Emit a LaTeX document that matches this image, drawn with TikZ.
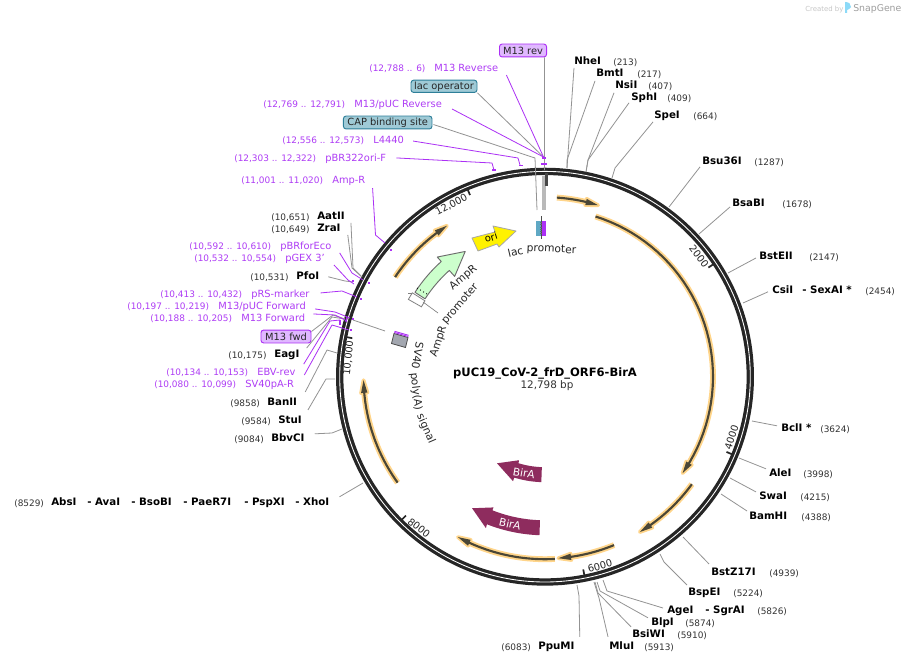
\documentclass[tikz,border=0pt]{standalone}
\usepackage{fontspec}
\setmainfont{DejaVu Sans}
\definecolor{purp}{HTML}{AC30F5}
\definecolor{purt}{HTML}{AE3CF5}
\definecolor{numc}{HTML}{333333}
\definecolor{glow}{HTML}{FFD58A}
\definecolor{core}{HTML}{4A4636}
\definecolor{bira}{HTML}{8E2C5E}
\definecolor{ringc}{HTML}{262626}
\definecolor{tealf}{HTML}{9FCAD6}
\definecolor{teald}{HTML}{2E7F99}
\definecolor{lacf}{HTML}{5FA8C4}
\definecolor{purf}{HTML}{E0B8FF}
\definecolor{ampf}{HTML}{CCFFCC}
\definecolor{svf}{HTML}{A3A7B0}
\newcommand{\fnam}{\fontsize{7.7}{9}\selectfont\bfseries}
\newcommand{\fnum}{\fontsize{6.7}{8}\selectfont}
\newcommand{\fpur}{\fontsize{7.4}{9}\selectfont}
\newcommand{\ftic}{\fontsize{7.4}{9}\selectfont}
\newcommand{\fcur}{\fontsize{8}{10}\selectfont}
\tikzset{
  declare function={px(\a,\r)=545+\r*sin(\a); py(\a,\r)=376.7-\r*cos(\a);},
  lbl/.style={inner sep=0pt,anchor=mid west},
  enzname/.style={lbl,font=\fnam,text=black},
  enznum/.style={lbl,font=\fnum,text=numc},
  purname/.style={lbl,font=\fpur,text=purt},
  purnum/.style={lbl,font=\fnum,text=purt},
  enzline/.style={draw=gray!85,line width=0.6pt,line join=round},
  pureline/.style={draw=purp,line width=0.6pt,line join=round},
  tag/.style={rounded corners=2pt,inner sep=0pt,font=\fpur,text=black!85,line width=0.7pt,anchor=center},
  purtag/.style={tag,draw=purp,fill=purf},
  teal/.style={tag,draw=teald,fill=tealf},
  ticklab/.style={inner sep=0pt,font=\ftic,text=black!85},
  ticker/.style={draw=ringc,line width=1.3pt},
  glowline/.style={draw=glow,line width=4.4pt,line join=round,line cap=butt},
  coreline/.style={draw=core,line width=1.6pt},
  curlab/.style={inner sep=0pt,anchor=base,font=\fcur,text=black!85},
}
\newcommand{\oarc}[4]{%
  \draw[glowline] plot[domain=#2:#3-#4*2,samples=40] ({px(\x,#1)},{py(\x,#1)});
  \filldraw[draw=glow,fill=glow,line width=2.8pt,line join=round]
     ({px(#3,#1)},{py(#3,#1)}) -- ({px(#3-#4*4,#1+3.2)},{py(#3-#4*4,#1+3.2)}) -- ({px(#3-#4*4,#1-3.2)},{py(#3-#4*4,#1-3.2)}) -- cycle;
  \draw[coreline] plot[domain=#2:#3-#4*2,samples=40] ({px(\x,#1)},{py(\x,#1)});
  \fill[core] ({px(#3,#1)},{py(#3,#1)}) -- ({px(#3-#4*4,#1+3.2)},{py(#3-#4*4,#1+3.2)}) -- ({px(#3-#4*4,#1-3.2)},{py(#3-#4*4,#1-3.2)}) -- cycle;
}
\newcommand{\ld}[5]{\draw[#1] ([shift={(#3,#4)}]#2) #5;}
\newcommand{\pdot}[2]{\fill[purp] (#1-1.2,#2-1.2) rectangle (#1+1.2,#2+1.2);}
\newcommand{\tickm}[1]{\draw[ticker] ({px(#1,196.5)},{py(#1,196.5)}) -- ({px(#1,204)},{py(#1,204)});}
% word of a curved label: name, angle, baseline radius, rotation, text
\newcommand{\cword}[5]{\node[curlab,rotate=#4] (#1) at ({px(#2,#3)},{py(#2,#3)}) {#5};}
\begin{document}
\begin{tikzpicture}[x=0.75pt,y=-0.75pt]
\useasboundingbox (0,0) rectangle (902,663);
\fill[white] (0,0) rectangle (902,663);

% ---- watermark
\node[lbl,font=\fontsize{5.2}{6}\selectfont,text=black!22] (wm1) at (805,7.5) {Created by};
\fill[cyan!45] (845,2) .. controls (849,2) and (851,4) .. (851,7) .. controls (851,9) and (848,9) .. (847,10) -- (847,13) -- (845,13) -- cycle;
\node[lbl,font=\fontsize{7}{8}\selectfont,text=black!38] (wm2) at (853,7.5) {SnapGene};

% ---- ring
\draw[ringc,line width=5.5pt] (545,376.7) circle [radius=205.3];
\draw[white,line width=0.65pt] (545,376.7) circle [radius=205.3];
\tickm{56.26}\tickm{112.52}\tickm{168.78}\tickm{225.04}\tickm{281.3}\tickm{337.56}
\node[ticklab,rotate=28] (t12) at (451.5,205) {12,000};
\node[ticklab,rotate=-52.5] (t2) at (699,256) {2000};
\node[ticklab,rotate=72] (t4) at (731.5,437) {4000};
\node[ticklab,rotate=15] (t6) at (600,566) {6000};
\node[ticklab,rotate=-38] (t8) at (419,528) {8000};
\node[ticklab,rotate=84] (t10) at (348.5,358) {10,000};
\draw[gray!55,line width=3pt] (544,176) -- (544,210);
\draw[ringc!85,line width=2pt] (546.5,173) -- (546.5,186);

% ---- orange arcs
\oarc{179.5}{3.8}{17.2}{1}
\oarc{168}{17.5}{125}{1}
\oarc{182}{126.2}{148.6}{1}
\oarc{182}{157.7}{175.8}{1}
\oarc{182.5}{176.9}{208.5}{1}
\oarc{181.5}{234.3}{268.9}{1}
\oarc{180}{303.6}{327}{1}

% ---- features
\draw[gray,fill=white,line width=0.6pt] ({px(302.3,157)},{py(302.3,157)}) -- ({px(302.3,142)},{py(302.3,142)}) -- ({px(299.5,142)},{py(299.5,142)}) -- ({px(299.5,157)},{py(299.5,157)}) -- cycle;
\coordinate (apa) at (408,293);
\coordinate (apb) at (423,302);
\draw[gray,line width=0.5pt] (apa) -- (412,293);
\draw[gray,line width=0.5pt] (apb) -- (438,313);
\filldraw[draw=gray!85!black,fill=ampf,line width=0.7pt,line join=round]
  plot[domain=303:318,samples=16] ({px(\x,155)},{py(\x,155)})
  -- ({px(318,161)},{py(318,161)}) -- ({px(327.5,148.5)},{py(327.5,148.5)}) -- ({px(318,135)},{py(318,135)}) -- ({px(318,143)},{py(318,143)})
  -- plot[domain=318:303,samples=16] ({px(\x,143)},{py(\x,143)}) -- cycle;
\draw[black,dotted,line width=0.7pt] (417,288) -- (427,294);
% ori
\filldraw[draw=gray!70,fill=yellow,line width=0.6pt,line join=round] (472,238) -- (495,232) -- (493,226) -- (516,231) -- (499,247) -- (497,244) -- (478,251) -- cycle;
\node[inner sep=0pt,font=\ftic,rotate=17,text=black] (ori) at (491,237.5) {ori};
% lac promoter block
\fill[lacf] (536,220.5) rectangle (542,236);
\fill[purp] (542,220.5) rectangle (546,236);
\draw[black!70,line width=0.5pt] (541,216) -- (541,238.5);
\draw[black!60,line width=1.6pt,dash pattern=on 0.7pt off 1pt] (541,222) -- (541,234);
% SV40
\filldraw[draw=gray!60!black,fill=svf,line width=0.6pt] (394,333.5) -- (408,337.5) -- (405.5,347.5) -- (391.5,343.5) -- cycle;
\draw[purp,line width=0.7pt] (394.3,332.5) -- (408.3,336.5);
\draw[purp,line width=0.7pt] (394.6,331.3) -- (408.6,335.3);
% BirA
\fill[bira] plot[domain=182:201.5,samples=16] ({px(\x,143.6)},{py(\x,143.6)})
  -- ({px(201.5,140.5)},{py(201.5,140.5)}) -- ({px(209,150.4)},{py(209,150.4)}) -- ({px(201.3,162.6)},{py(201.3,162.6)}) -- ({px(201.5,158.6)},{py(201.5,158.6)})
  -- plot[domain=201.5:182,samples=16] ({px(\x,158.6)},{py(\x,158.6)}) -- cycle;
\fill[bira] plot[domain=182:197,samples=12] ({px(\x,90.5)},{py(\x,90.5)})
  -- ({px(197.3,87.5)},{py(197.3,87.5)}) -- ({px(209,99)},{py(209,99)}) -- ({px(197,109.3)},{py(197,109.3)}) -- ({px(197,105.5)},{py(197,105.5)})
  -- plot[domain=197:182,samples=12] ({px(\x,105.5)},{py(\x,105.5)}) -- cycle;
\node[inner sep=0pt,font=\fcur,text=white,rotate=-13] (ba) at (510,524) {BirA};
\node[inner sep=0pt,font=\fcur,text=white,rotate=-10] (bb) at (524,473) {BirA};
% curved labels, word by word
\cword{lp1}{-13.3}{124.5}{13.3}{lac}
\cword{lp2}{2.9}{124.5}{-2.9}{promoter}
\cword{ap1}{288.2}{109}{71.8}{AmpR}
\cword{ap2}{310.7}{109}{49.3}{promoter}
\cword{ar1}{320.5}{125.5}{39.5}{AmpR}
\cword{sv1}{279.4}{133}{-99.4}{SV40}
\cword{sv2}{263.4}{133}{-83.4}{poly(A)}
\cword{sv3}{246.5}{133}{-66.5}{signal}

% ---- centre
\node[inner sep=0pt,font=\fontsize{8.65}{10}\selectfont\bfseries] (title) at (545,373) {pUC19\_CoV-2\_frD\_ORF6-BirA};
\node[inner sep=0pt,font=\fontsize{7.8}{9}\selectfont,text=numc] (size) at (547,385.5) {12,798 bp};

% ---- tagged features
\node[purtag,minimum width=35.3pt,minimum height=9.7pt] (m13rev) at (523,50.5) {M13 rev};
\node[teal,minimum width=49.5pt,minimum height=9.2pt] (lacop) at (444,86.3) {lac operator};
\node[teal,minimum width=66.4pt,minimum height=9.7pt] (cap) at (387.7,122.5) {CAP binding site};
\node[purtag,minimum width=37.5pt,minimum height=9.7pt] (m13fwd) at (286,336.5) {M13 fwd};

% ---- purple labels
\node[purnum] (n1) at (369,68) {(12,788 .. 6)};
\node[purname] (p1) at (434,68) {M13 Reverse};
\node[purnum] (n2) at (263,104) {(12,769 .. 12,791)};
\node[purname] (p2) at (354,104) {M13/pUC Reverse};
\node[purnum] (n3) at (282,140) {(12,556 .. 12,573)};
\node[purname] (p3) at (373,140) {L4440};
\node[purnum] (n4) at (234,158) {(12,303 .. 12,322)};
\node[purname] (p4) at (325,158) {pBR322ori-F};
\node[purnum] (n5) at (241,180) {(11,001 .. 11,020)};
\node[purname] (p5) at (332,180) {Amp-R};
\node[purnum] (n6) at (189,246) {(10,592 .. 10,610)};
\node[purname] (p6) at (280,246) {pBRforEco};
\node[purnum] (n7) at (194,258) {(10,532 .. 10,554)};
\node[purname] (p7) at (285,258) {pGEX 3'};
\node[purnum] (n8) at (160,294) {(10,413 .. 10,432)};
\node[purname] (p8) at (251,294) {pRS-marker};
\node[purnum] (n9) at (127,306) {(10,197 .. 10,219)};
\node[purname] (p9) at (218,306) {M13/pUC Forward};
\node[purnum] (n10) at (150,318) {(10,188 .. 10,205)};
\node[purname] (p10) at (241,318) {M13 Forward};
\node[purnum] (n11) at (166,372) {(10,134 .. 10,153)};
\node[purname] (p11) at (257,372) {EBV-rev};
\node[purnum] (n12) at (154,384) {(10,080 .. 10,099)};
\node[purname] (p12) at (245,384) {SV40pA-R};

% ---- enzyme labels
\node[enzname] (e1) at (574,61) {NheI};      \node[enznum] (f1) at (613,61.5) {(213)};
\node[enzname] (e2) at (596,73) {BmtI};      \node[enznum] (f2) at (637,73.5) {(217)};
\node[enzname] (e3) at (615,85) {NsiI};      \node[enznum] (f3) at (648,85.5) {(407)};
\node[enzname] (e4) at (631,97) {SphI};      \node[enznum] (f4) at (667,97.5) {(409)};
\node[enzname] (e5) at (654,115) {SpeI};     \node[enznum] (f5) at (693,115.5) {(664)};
\node[enzname] (e6) at (702,161) {Bsu36I};   \node[enznum] (f6) at (754,161.5) {(1287)};
\node[enzname] (e7) at (732,203) {BsaBI};    \node[enznum] (f7) at (782,203.5) {(1678)};
\node[enzname] (e8) at (759,256) {BstEII};   \node[enznum] (f8) at (809,256.5) {(2147)};
\node[enzname] (e9) at (772,290) {CsiI};
\node[enzname] (e9b) at (802,290) {- SexAI *}; \node[enznum] (f9) at (865,290.5) {(2454)};
\node[enzname] (e10) at (781,428) {BclI *};  \node[enznum] (f10) at (820,428.5) {(3624)};
\node[enzname] (e11) at (769,473) {AleI};    \node[enznum] (f11) at (803,473.5) {(3998)};
\node[enzname] (e12) at (759,496) {SwaI};    \node[enznum] (f12) at (800,496.5) {(4215)};
\node[enzname] (e13) at (749,516) {BamHI};   \node[enznum] (f13) at (801,516.5) {(4388)};
\node[enzname] (e14) at (711,572) {BstZ17I}; \node[enznum] (f14) at (769,572.5) {(4939)};
\node[enzname] (e15) at (688,592) {BspEI};   \node[enznum] (f15) at (733,592.5) {(5224)};
\node[enzname] (e16) at (667,610) {AgeI};
\node[enzname] (e16b) at (705,610) {- SgrAI}; \node[enznum] (f16) at (757,610.5) {(5826)};
\node[enzname] (e17) at (651,622) {BlpI};    \node[enznum] (f17) at (685,622.5) {(5874)};
\node[enzname] (e18) at (632,634) {BsiWI};   \node[enznum] (f18) at (677,634.5) {(5910)};
\node[enzname] (e19) at (609,646) {MluI};    \node[enznum] (f19) at (644,646.5) {(5913)};
\node[enznum] (f20) at (501,646.5) {(6083)}; \node[enzname] (e20) at (538,646) {PpuMI};
\node[enznum] (f21) at (271,216.5) {(10,651)}; \node[enzname] (e21) at (317,216) {AatII};
\node[enznum] (f22) at (271,228.5) {(10,649)}; \node[enzname] (e22) at (317,228) {ZraI};
\node[enznum] (f23) at (250,276.5) {(10,531)}; \node[enzname] (e23) at (296,276) {PfoI};
\node[enznum] (f24) at (228,354.5) {(10,175)}; \node[enzname] (e24) at (274,354) {EagI};
\node[enznum] (f25) at (230,402.5) {(9858)};  \node[enzname] (e25) at (267,402) {BanII};
\node[enznum] (f26) at (241,420.5) {(9584)};  \node[enzname] (e26) at (278,420) {StuI};
\node[enznum] (f27) at (234,438.5) {(9084)};  \node[enzname] (e27) at (271,438) {BbvCI};
\node[enznum] (f28) at (14,502.5) {(8529)};
\node[enzname] (e28a) at (51,502) {AbsI};
\node[enzname] (e28b) at (87,502) {- AvaI};
\node[enzname] (e28c) at (131,502) {- BsoBI};
\node[enzname] (e28d) at (183,502) {- PaeR7I};
\node[enzname] (e28e) at (244,502) {- PspXI};
\node[enzname] (e28) at (295,502) {- XhoI};

% ---- leader ends
\coordinate (r1) at (567,168);
\coordinate (r2) at (586,172);
\coordinate (r3) at (612,178);
\coordinate (r4) at (669,207);
\coordinate (r5) at (699,234);
\coordinate (r6) at (728,273);
\coordinate (r7) at (743,303);
\coordinate (r8) at (752,421);
\coordinate (r9) at (739,458);
\coordinate (r10) at (730,478);
\coordinate (r11) at (721,494);
\coordinate (r12) at (683,537);
\coordinate (r13) at (660,554);
\coordinate (r14) at (603,580);
\coordinate (r15) at (597,582);
\coordinate (r16) at (595,582);
\coordinate (r17) at (594,582);
\coordinate (r18) at (577,585);
\coordinate (r19) at (363,483);
\coordinate (r20) at (342,429);
\coordinate (r21) at (335,379);
\coordinate (r22) at (337,353);
\coordinate (r23) at (345,319);
\coordinate (r24) at (353,282);
\coordinate (r25) at (362,277);
\coordinate (q1) at (543.5,157);
\coordinate (q2) at (537,210);
\coordinate (q3) at (544.5,170);

% ---- enzyme leaders
\ld{enzline}{e1.west}{0}{7}{-- (r1)}
\ld{enzline}{e2.west}{-1}{8}{-- (567,160) -- (r1)}
\ld{enzline}{e3.west}{-1}{8}{-- (588,160) -- (r2)}
\ld{enzline}{e4.west}{-2}{5}{-- (588,160) -- (r2)}
\ld{enzline}{e5.west}{-1}{6}{-- (615,168) -- (r3)}
\ld{enzline}{e6.west}{-2}{6}{-- (r4)}
\ld{enzline}{e7.west}{-2}{4}{-- (r5)}
\ld{enzline}{e8.west}{-3}{2}{-- (r6)}
\ld{enzline}{e9.west}{-4}{2}{-- (r7)}
\ld{enzline}{e10.west}{-4}{-2}{-- (r8)}
\ld{enzline}{e11.west}{-3}{-4}{-- (r9)}
\ld{enzline}{e12.west}{-3}{-4}{-- (r10)}
\ld{enzline}{e13.west}{-2}{-5}{-- (r11)}
\ld{enzline}{e14.west}{-2}{-8}{-- (r12)}
\ld{enzline}{e15.west}{-1}{-8}{-- (664,562) -- (r13)}
\ld{enzline}{e16.west}{-4}{-3}{-- (607,591) -- (r14)}
\ld{enzline}{e17.west}{-3}{-5}{-- (600,591) -- (r15)}
\ld{enzline}{e18.west}{-1}{-7}{-- (598,593) -- (r16)}
\ld{enzline}{e19.west}{-1}{-9}{-- (599,598) -- (r17)}
\ld{enzline}{e20.east}{5}{-10}{-- (579,596) -- (r18)}
\ld{enzline}{e28.east}{10}{-5}{-- (r19)}
\ld{enzline}{e27.east}{10}{-4}{-- (332,433) -- (r20)}
\ld{enzline}{e26.east}{6}{-10}{-- (326,379) -- (r21)}
\ld{enzline}{e25.east}{8}{-10}{-- (327,350) -- (r22)}
\ld{enzline}{e24.east}{7}{-7}{-- (332,317) -- (r23)}
\ld{enzline}{e23.east}{9}{1}{-- (345,281) -- (r24)}
\ld{enzline}{e22.east}{7}{7}{-- (352,268) -- (r25)}
\ld{enzline}{e21.east}{6}{7}{-- (353,268) -- (r25)}
% ---- tagged feature leaders
\ld{enzline}{m13rev.south east}{-2.5}{0}{-- (q3)}
\ld{enzline}{lacop.south east}{0}{0}{-- (q1)}
\ld{enzline}{cap.east}{1}{2}{-- (535,158) -- (q2)}
\ld{enzline}{m13fwd.east}{0}{-5}{-- (333,315) -- (r23)}
\draw[enzline] (353,320) -- (385,331);
% ---- primer leaders
\coordinate (s1) at (520,165);
\coordinate (s2) at (494,170);
\coordinate (s3) at (385,243);
\coordinate (s4) at (363,280);
\coordinate (s5) at (354,284);
\coordinate (s6) at (357,297);
\coordinate (s7) at (350,318);
\coordinate (s8) at (347,321);
\coordinate (s9) at (340,320);
\coordinate (s10) at (349,330);
\ld{pureline}{p1.east}{8}{7}{-- (q1)}
\ld{pureline}{p2.east}{10}{4}{-- (q1)}
\ld{pureline}{p3.east}{9}{1}{-- (518,158) -- (s1)}
\ld{pureline}{p4.east}{10}{-1}{-- (492,163) -- (s2)}
\ld{pureline}{p5.east}{7}{7}{-- (375.5,235) -- (s3)}
\ld{pureline}{p6.east}{8}{6}{-- (352,273) -- (s4)}
\ld{pureline}{p7.east}{9}{6}{-- (348,280) -- (s5)}
\ld{pureline}{p8.east}{11}{-2}{-- (342,291) -- (s6)}
\ld{pureline}{p9.east}{9}{2}{-- (335,312) -- (s7)}
\ld{pureline}{p10.east}{8}{-4}{-- (335,315) -- (s8)}
\ld{pureline}{p11.east}{8}{-8}{-- (330,321) -- (s9)}
\ld{pureline}{p12.east}{10}{-10}{-- (332,325) -- (s10)}
% ---- primer marks
\fill[purp] (541,163.2) rectangle (547,165.2);
\fill[purp] (541.5,157) rectangle (545.5,159);
\fill[purp] (518.5,164.6) rectangle (522.5,166.4);
\fill[purp] (492,169.4) rectangle (496,171.2);
\pdot{391}{250}
\pdot{369}{283}
\pdot{353}{281}
\pdot{361}{299}
\pdot{353}{319}
\pdot{351}{330}
\draw[purp,line width=0.9pt] (340,319.5) -- (340,325);
\draw[purp,line width=0.9pt] (347,317) -- (346,322);
\end{tikzpicture}
\end{document}
